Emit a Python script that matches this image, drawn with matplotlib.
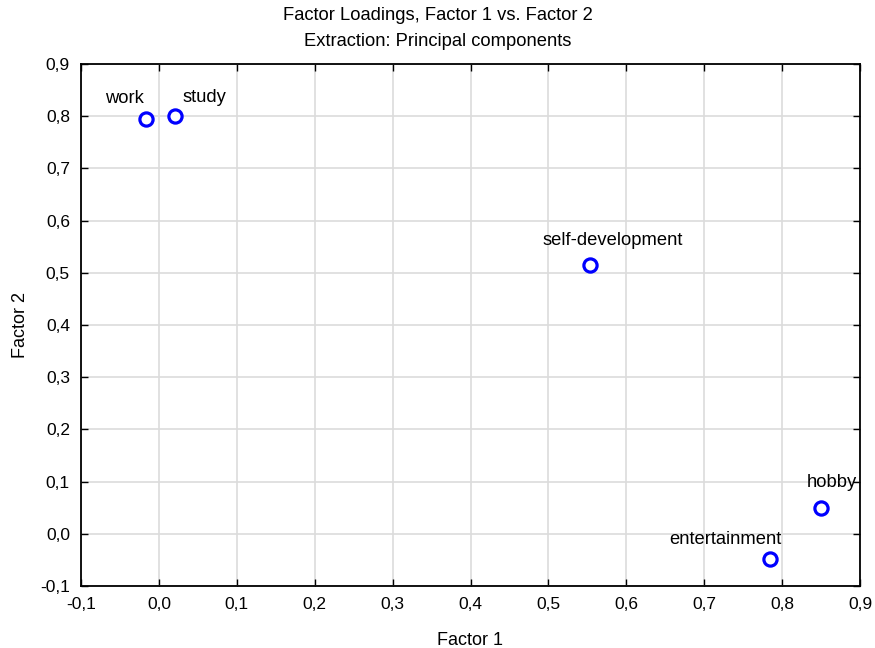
import matplotlib.pyplot as plt
from matplotlib.ticker import FuncFormatter, MultipleLocator

plt.rcParams["font.family"] = ["Liberation Sans", "DejaVu Sans"]

# factor loadings per variable
variables = ["work", "study", "self-development", "hobby", "entertainment"]
factor1 = [-0.016, 0.021, 0.553, 0.850, 0.784]
factor2 = [0.795, 0.800, 0.514, 0.049, -0.049]

# label placement around each point (pixels)
label_offsets = [(-22, 16), (29, 14), (23, 20), (11, 21), (-44, 15)]


def comma_fmt(v, pos):
    return f"{v:.1f}".replace(".", ",")


fig = plt.figure(figsize=(8.75, 6.48), dpi=100)
ax = fig.add_axes([81 / 875, 1 - 586 / 648, 779 / 875, 522 / 648])

ax.plot(factor1, factor2, linestyle="none", marker="o", markersize=9.5,
        markerfacecolor="white", markeredgecolor="#0000ff",
        markeredgewidth=2.3, zorder=3)

for name, x, y, (dx, dy) in zip(variables, factor1, factor2, label_offsets):
    ax.annotate(name, (x, y), xytext=(dx, dy), textcoords="offset pixels",
                ha="center", va="baseline", fontsize=13.2, zorder=4)

ax.set_xlim(-0.1, 0.9)
ax.set_ylim(-0.1, 0.9)
ax.xaxis.set_major_locator(MultipleLocator(0.1))
ax.yaxis.set_major_locator(MultipleLocator(0.1))
ax.xaxis.set_major_formatter(FuncFormatter(comma_fmt))
ax.yaxis.set_major_formatter(FuncFormatter(comma_fmt))

ax.grid(True, color="#dcdcdc", linewidth=1.2)
ax.set_axisbelow(True)
ax.tick_params(direction="in", top=True, right=True, length=5,
               width=1.0, labelsize=12.5, pad=8)
for s in ax.spines.values():
    s.set_linewidth(1.3)

ax.set_xlabel("Factor 1", fontsize=13, labelpad=14)
ax.set_ylabel("Factor 2", fontsize=13, labelpad=8)

fig.text(0.5, 1 - 16 / 648, "Factor Loadings, Factor 1 vs. Factor 2",
         ha="center", va="center", fontsize=13.2)
fig.text(0.5, 1 - 42 / 648, "Extraction: Principal components",
         ha="center", va="center", fontsize=13.2)

fig.savefig("out.png", dpi=100)
